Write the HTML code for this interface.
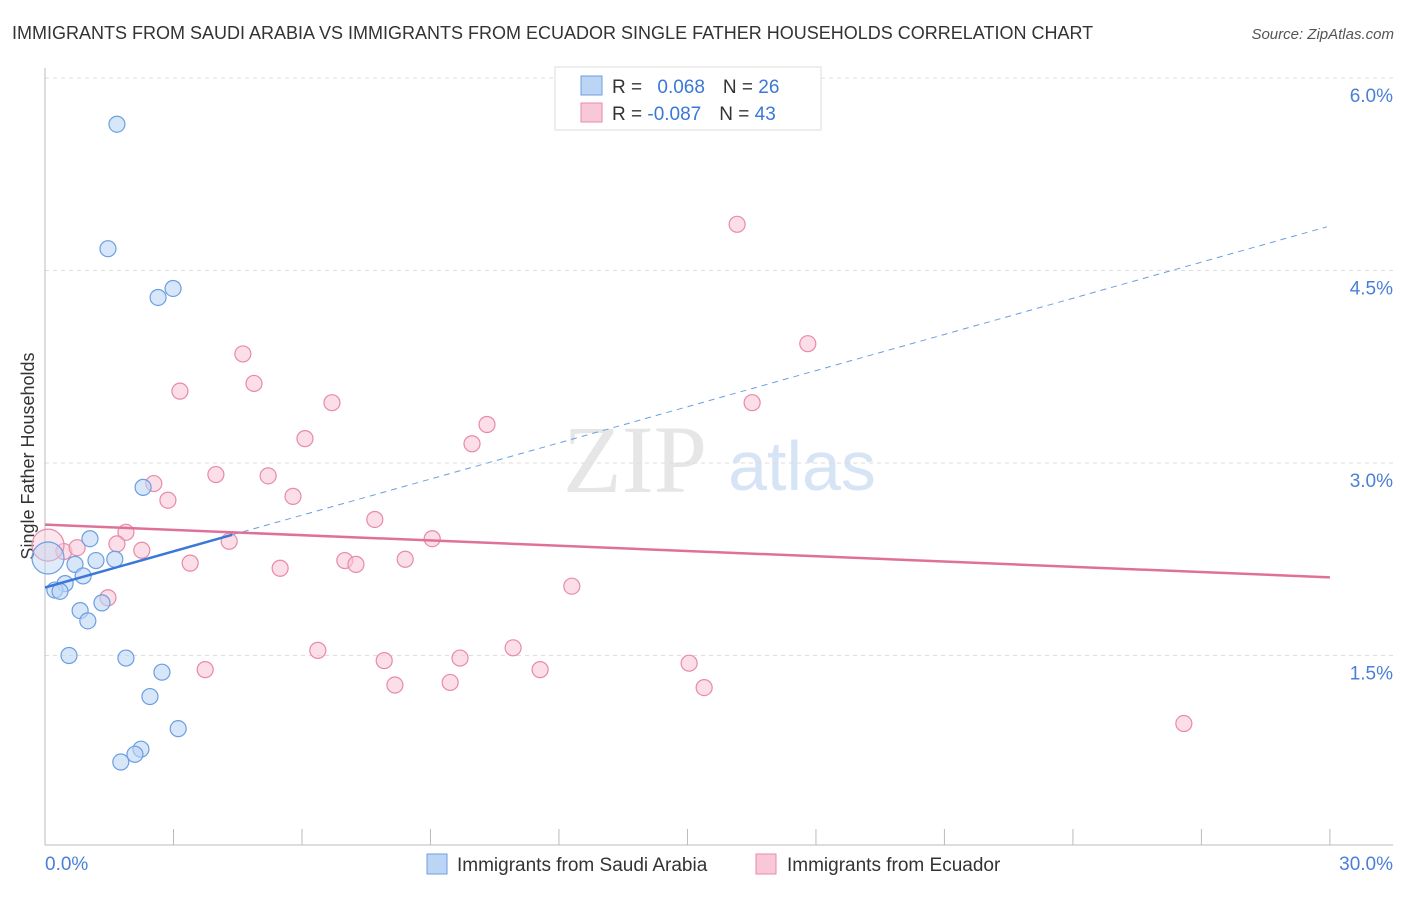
<!DOCTYPE html>
<html><head><meta charset="utf-8"><style>
body{margin:0;background:#fff;font-family:"Liberation Sans",sans-serif;}
</style></head><body>
<svg id="chart" width="1406" height="892" xmlns="http://www.w3.org/2000/svg" font-family="Liberation Sans, sans-serif">
<text x="12" y="39" font-size="18" fill="#333">IMMIGRANTS FROM SAUDI ARABIA VS IMMIGRANTS FROM ECUADOR SINGLE FATHER HOUSEHOLDS CORRELATION CHART</text>
<text x="1394" y="39" font-size="15" fill="#555" text-anchor="end" font-style="italic">Source: ZipAtlas.com</text>
<text transform="translate(34,456) rotate(-90)" font-size="18" fill="#333" text-anchor="middle">Single Father Households</text>
<g>
<text x="635" y="492" font-size="96" fill="#e6e6e6" font-family="Liberation Serif, serif" text-anchor="middle">ZIP</text>
<text x="802" y="490" font-size="70" fill="#d6e4f6" text-anchor="middle">atlas</text>
</g>
<g id="grid"></g><g id="axes"></g><g id="marks"></g>
<g>
<rect x="555" y="67" width="266" height="63" fill="#fff" stroke="#ddd"/>
<rect x="581" y="76" width="21" height="19" fill="#bcd5f5" stroke="#6b9fe0"/>
<rect x="581" y="103" width="21" height="19" fill="#f9c8d7" stroke="#e88aa8"/>
<text x="612" y="93" font-size="19" fill="#333">R = <tspan fill="#3a78d8" dx="10">0.068</tspan><tspan dx="18" fill="#333">N = </tspan><tspan fill="#3a78d8">26</tspan></text>
<text x="612" y="120" font-size="19" fill="#333">R = <tspan fill="#3a78d8">-0.087</tspan><tspan dx="18" fill="#333">N = </tspan><tspan fill="#3a78d8">43</tspan></text>
</g>
<g>
<rect x="427" y="854" width="20" height="20" fill="#bcd5f5" stroke="#6b9fe0"/>
<text x="457" y="871" font-size="19" fill="#333">Immigrants from Saudi Arabia</text>
<rect x="756" y="854" width="20" height="20" fill="#f9c8d7" stroke="#e88aa8"/>
<text x="787" y="871" font-size="19" fill="#333">Immigrants from Ecuador</text>
</g>
</svg>
<script>
const yTicks=[1.5,3.0,4.5,6.0];
const yTickLabels=["1.5%","3.0%","4.5%","6.0%"];
const xTickValues=[0,3,6,9,12,15,18,21,24,27,30];
const xLabels=["0.0%","30.0%"];
const saudiX=[1.68,1.47,2.64,2.99,2.29,1.05,1.63,1.19,0.70,0.89,0.47,0.23,0.35,1.33,0.82,1.00,0.56,1.89,2.73,2.45,3.11,2.24,2.10,1.77,0.07];
const saudiY=[5.64,4.67,4.29,4.36,2.81,2.41,2.25,2.24,2.21,2.12,2.06,2.01,2.00,1.91,1.85,1.77,1.50,1.48,1.37,1.18,0.93,0.77,0.73,0.67,2.26];
const ecuX=[16.16,17.81,4.62,4.88,3.15,6.70,16.51,10.32,6.07,9.97,3.99,5.21,2.54,2.87,5.79,7.70,1.89,4.30,9.04,1.68,2.26,0.44,0.75,3.39,7.00,7.26,8.41,5.49,12.30,1.47,6.37,10.93,7.92,9.69,11.56,3.74,15.04,8.17,9.46,15.39,26.59,0.07];
const ecuY=[4.86,3.93,3.85,3.62,3.56,3.47,3.47,3.30,3.19,3.15,2.91,2.90,2.84,2.71,2.74,2.56,2.46,2.39,2.41,2.37,2.32,2.31,2.34,2.22,2.24,2.21,2.25,2.18,2.04,1.95,1.54,1.56,1.46,1.48,1.39,1.39,1.44,1.27,1.29,1.25,0.97,2.36];
const saudiTrend=[2.03,0.0939];
const ecuTrend=[2.52,-0.0137];
const NS="http://www.w3.org/2000/svg";
const xs=v=>45+v*42.83, ys=v=>848-v*128.33;
function mk(tag,attrs,parent){const e=document.createElementNS(NS,tag);for(const k in attrs)e.setAttribute(k,attrs[k]);document.getElementById(parent).appendChild(e);return e;}
yTicks.forEach((t,i)=>{
 const g=mk('line',{x1:45,x2:1393,y1:ys(t),y2:ys(t),stroke:'#ddd','stroke-dasharray':'4,4'},'grid');
 
 
 const l=mk('text',{x:1393,y:ys(t)+24,'font-size':19,fill:'#4a7fd8','text-anchor':'end'},'axes');
 l.textContent=yTickLabels[i];
 
 
});
const ax=mk('line',{x1:45,x2:45,y1:68,y2:845,stroke:'#bbb'},'axes');


const bx=mk('line',{x1:45,x2:1393,y1:845,y2:845,stroke:'#bbb'},'axes');


xTickValues.forEach(t=>{
 const k=mk('line',{x1:xs(t),x2:xs(t),y1:829,y2:845,stroke:'#bbb'},'axes');
 
 
});
[[0,'start',45],[30,'end',1393]].forEach((d,i)=>{
 const l=mk('text',{x:d[2],y:870,'font-size':19,fill:'#4a7fd8','text-anchor':d[1]},'axes');
 l.textContent=xLabels[i];
 
 
});
function pts(X,Y,fill,stroke,name){
 X.forEach((x,i)=>{
  const big=i===X.length-1;
  const c=mk('circle',{cx:xs(x),cy:ys(Y[i]),r:big?16:8,fill:fill,'fill-opacity':big?0.45:0.6,stroke:stroke,'stroke-width':1.2},'marks');
  
  
 });
}
pts(ecuX,ecuY,'#f9c8d7','#e88aa8','ecuador-point');
pts(saudiX,saudiY,'#bcd5f5','#6b9fe0','saudi-point');
const se=4.37;
let t=mk('line',{x1:xs(0),y1:ys(saudiTrend[0]),x2:xs(se),y2:ys(saudiTrend[0]+saudiTrend[1]*se),stroke:'#3a78d8','stroke-width':2.5},'marks');


t=mk('line',{x1:xs(se),y1:ys(saudiTrend[0]+saudiTrend[1]*se),x2:xs(29.93),y2:ys(saudiTrend[0]+saudiTrend[1]*29.93),stroke:'#6b9fe0','stroke-width':1,'stroke-dasharray':'6,5'},'marks');


t=mk('line',{x1:xs(0),y1:ys(ecuTrend[0]),x2:xs(30),y2:ys(ecuTrend[0]+ecuTrend[1]*30),stroke:'#e0709a','stroke-width':2.5},'marks');


</script>
</body></html>
